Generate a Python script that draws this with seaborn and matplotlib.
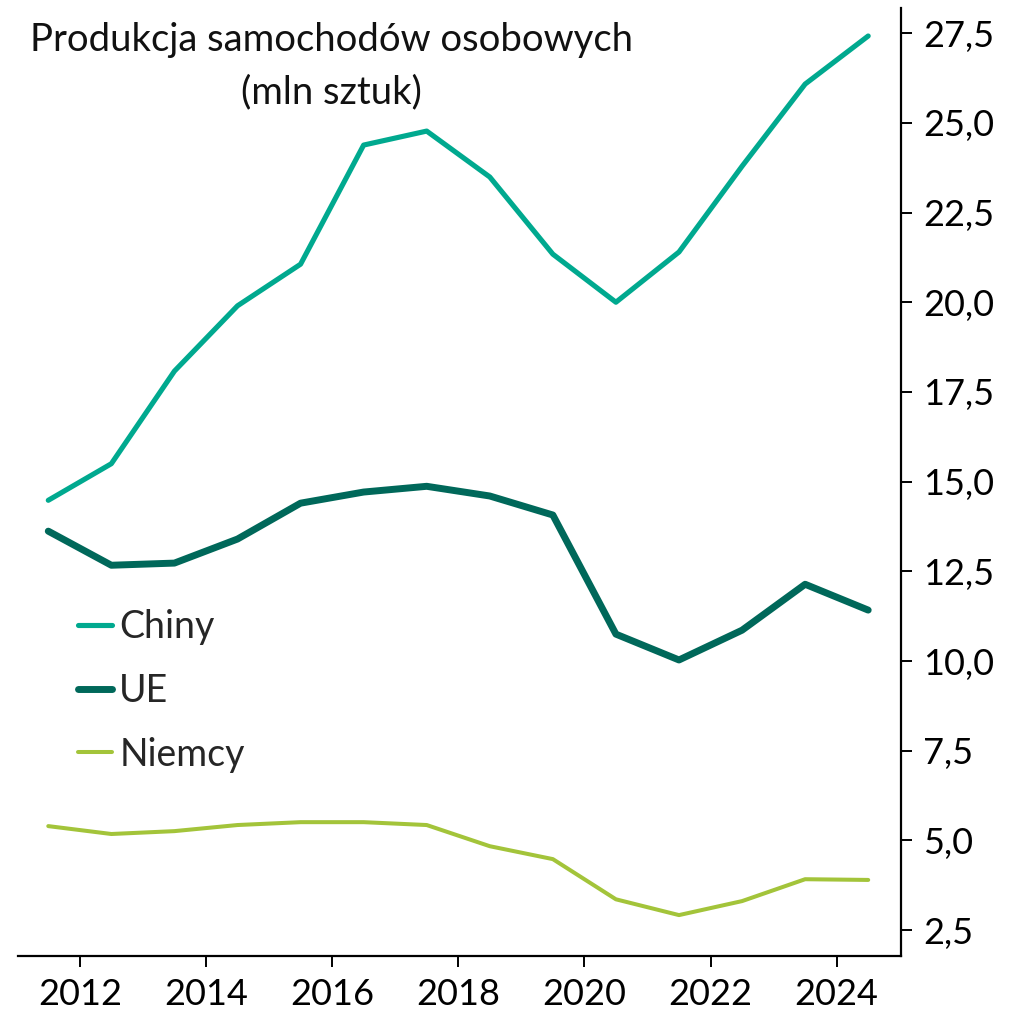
import matplotlib
matplotlib.use("Agg")
import matplotlib.pyplot as plt
import seaborn as sns
import pandas as pd
import numpy as np

years = list(range(2011, 2025))
chiny = [14.48, 15.5, 18.08, 19.9, 21.06, 24.38, 24.77, 23.49, 21.34, 20.0, 21.4, 23.79, 26.08, 27.42]
ue = [13.62, 12.67, 12.73, 13.4, 14.4, 14.71, 14.87, 14.6, 14.07, 10.75, 10.03, 10.86, 12.14, 11.42]
niemcy = [5.4, 5.18, 5.26, 5.43, 5.51, 5.51, 5.43, 4.84, 4.48, 3.36, 2.92, 3.31, 3.92, 3.9]
series_names = ["Chiny", "UE", "Niemcy"]
yticks = [2.5, 5.0, 7.5, 10.0, 12.5, 15.0, 17.5, 20.0, 22.5, 25.0, 27.5]
xticks = [2012, 2014, 2016, 2018, 2020, 2022, 2024]
title = "Produkcja samochodów osobowych\n(mln sztuk)"

colors = {"Chiny": "#00A98F", "UE": "#00685A", "Niemcy": "#A3C43A"}
widths = {"Chiny": 3.7, "UE": 5.0, "Niemcy": 2.9}

sns.set_theme(style="white")
plt.rcParams["font.family"] = ["Lato", "DejaVu Sans"]

fig = plt.figure(figsize=(10.2, 10.11), dpi=100)
ax = fig.add_axes([18/1020, 55/1011, (901-18)/1020, (956-8)/1011])

data = {"Chiny": chiny, "UE": ue, "Niemcy": niemcy}
for name in series_names:
    df = pd.DataFrame({"rok": np.array(years) + 0.5, "wartosc": data[name]})
    sns.lineplot(data=df, x="rok", y="wartosc", ax=ax, color=colors[name],
                 linewidth=widths[name], label=name)

ax.set_xlim(2011.02, 2025.02)
ax.set_ylim(1.78, 28.2)
ax.yaxis.tick_right()
ax.set_yticks(yticks)
ax.set_yticklabels([f"{v:.1f}".replace(".", ",") for v in yticks])
ax.set_xticks(xticks)
ax.set_xticklabels([str(x) for x in xticks])
ax.set_xlabel("")
ax.set_ylabel("")
for s in ["top", "left"]:
    ax.spines[s].set_visible(False)
for s in ["bottom", "right"]:
    ax.spines[s].set_color("black")
    ax.spines[s].set_linewidth(1.6)
ax.tick_params(axis="both", which="both", direction="out", length=8, width=1.4,
               colors="black", labelsize=26)
ax.tick_params(axis="y", right=True, left=False, pad=8)
ax.tick_params(axis="x", bottom=True, pad=8)

ax.text(0.355, 0.985, title, transform=ax.transAxes, ha="center", va="top",
        fontsize=27.5, linespacing=1.55, color="#111111")

leg = ax.legend(loc="upper left", bbox_to_anchor=(0.068, 0.366), frameon=False,
                fontsize=27, handlelength=0.9, handletextpad=0.2, labelspacing=0.74,
                borderpad=0, borderaxespad=0)
for line, name in zip(leg.get_lines(), series_names):
    line.set_linewidth(widths[name])

fig.savefig("out.png", dpi=100)
